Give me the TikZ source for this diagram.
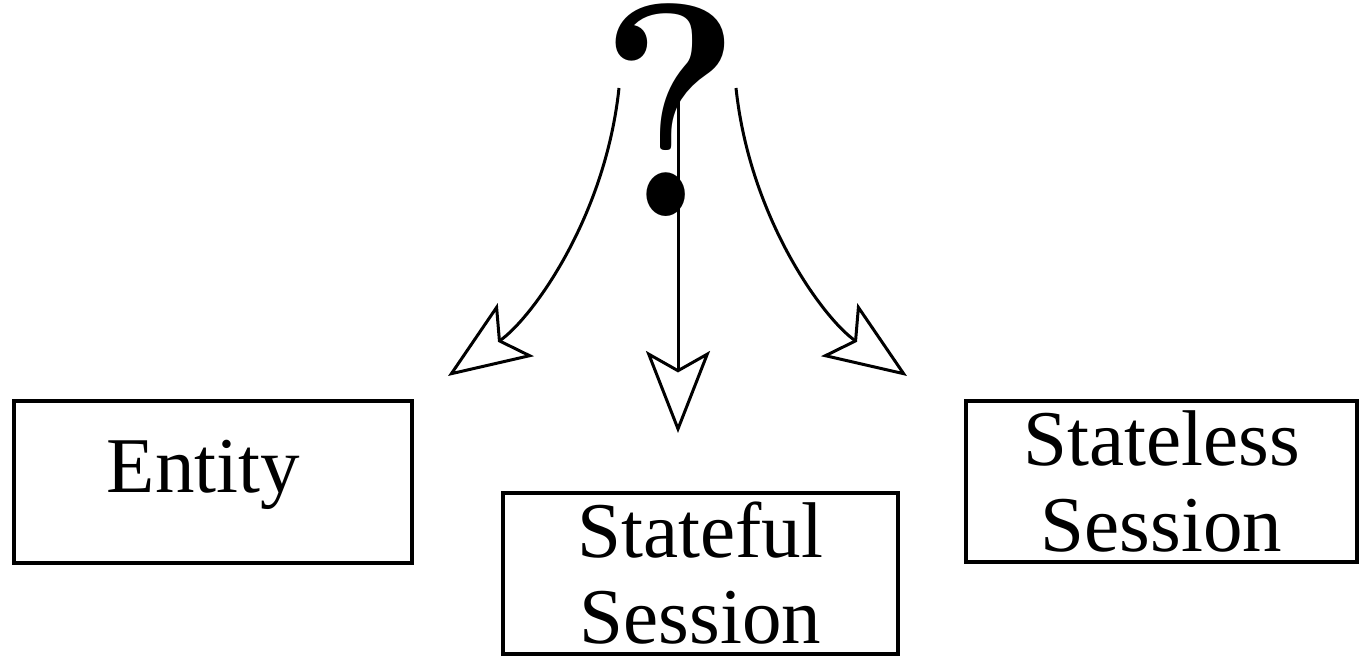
\documentclass[tikz,border=0pt]{standalone}
\usepackage{fontspec}
\setmainfont{Liberation Serif}
\newfontfamily\qfont{Latin Modern Roman}
\usetikzlibrary{arrows.meta}

\begin{document}
\begin{tikzpicture}[x=0.5pt,y=-0.5pt,line width=1.5pt,>={Stealth[open,length=41pt,width=32pt,inset=9pt]}]
\tikzset{kind/.style={draw,line width=2pt,align=center,inner sep=0pt,font=\fontsize{39.5}{43}\selectfont}}
\useasboundingbox (0,0) rectangle (1361,657);

\node (q) [anchor=base,font=\qfont\bfseries\fontsize{152}{152}\selectfont] at (671,217) {\scalebox{0.88}[1]{?}};
\node (entity) [kind,minimum width=199pt,minimum height=81pt] at (212.5,482) {\raisebox{3.5pt}[\height][\depth]{Entity}\hspace*{9pt}};
\node (stateful) [kind,minimum width=197.5pt,minimum height=80.5pt] at (700.5,573.5) {Stateful\\Session};
\node (stateless) [kind,minimum width=195.5pt,minimum height=80.5pt] at (1161.5,481.5) {Stateless\\Session};

\coordinate (l0) at (619,88);
\coordinate (m0) at (678,88);
\coordinate (r0) at (736,88);
\coordinate (ltip) at (448,376);
\coordinate (mtip) at (678,433);
\coordinate (rtip) at (907,376);

\draw[->] (l0) .. controls (605,220) and (530,320) .. (ltip);
\draw[->] (m0) -- (mtip);
\draw[->] (r0) .. controls (750,220) and (825,320) .. (rtip);
\end{tikzpicture}
\end{document}
